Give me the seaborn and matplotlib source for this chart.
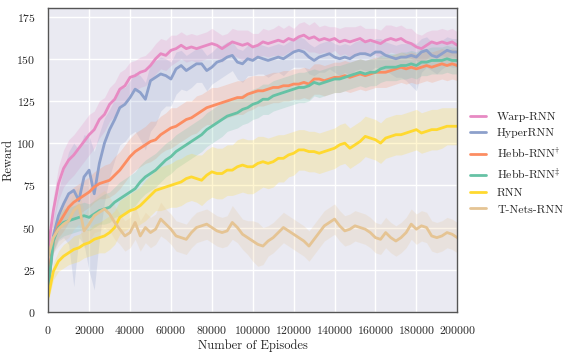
import numpy as np
import pandas as pd
import seaborn as sns
from matplotlib import pyplot as plt

# episodes, every 2500
episodes = list(range(0, 200001, 2500))

warp_rnn = [38, 60, 76, 85, 90, 93, 97, 101, 105, 108, 114, 117, 123, 126, 132, 134, 139, 140, 142, 143,
            146, 150, 153, 152, 155, 156, 158, 156, 157, 156, 157, 158, 159, 158, 156, 158, 160, 159, 158, 159,
            157, 158, 160, 159, 160, 161, 160, 162, 161, 163, 164, 162, 163, 161, 162, 161, 162, 160, 161, 160,
            161, 162, 160, 161, 160, 159, 161, 162, 161, 162, 160, 159, 157, 156, 158, 160, 159, 160, 159, 160,
            158]
hyper_rnn = [12, 45, 57, 64, 70, 72, 66, 80, 84, 70, 88, 100, 108, 114, 121, 123, 127, 132, 130, 126,
             137, 139, 141, 140, 138, 144, 146, 143, 145, 147, 147, 143, 145, 148, 149, 151, 152, 148, 147, 150,
             149, 151, 150, 149, 150, 151, 150, 152, 154, 155, 154, 151, 149, 151, 152, 153, 151, 150, 151, 150,
             152, 153, 153, 152, 154, 154, 152, 151, 150, 151, 151, 152, 151, 154, 155, 152, 151, 153, 155, 154,
             154]
hebb_dagger = [20, 42, 52, 57, 62, 65, 67, 69, 71, 74, 76, 77, 78, 81, 84, 88, 92, 95, 97, 99,
               101, 102, 105, 107, 109, 110, 112, 114, 115, 117, 119, 121, 122, 123, 124, 125, 126, 127, 127, 129,
               130, 131, 131, 132, 133, 133, 134, 134, 135, 135, 136, 135, 138, 138, 137, 138, 139, 139, 140, 139,
               140, 141, 140, 141, 142, 142, 142, 143, 144, 145, 144, 145, 144, 145, 146, 145, 146, 147, 146, 147,
               146]
hebb_ddagger = [14, 42, 50, 53, 54, 55, 56, 57, 56, 58, 60, 61, 62, 65, 67, 69, 71, 73, 77, 80,
                82, 84, 87, 90, 92, 95, 97, 99, 101, 103, 105, 108, 110, 112, 114, 116, 117, 118, 120, 121,
                123, 124, 126, 126, 128, 129, 130, 131, 132, 133, 133, 134, 136, 135, 136, 137, 138, 138, 139, 140,
                141, 142, 141, 142, 142, 144, 145, 145, 145, 146, 146, 147, 146, 148, 148, 149, 149, 149, 150, 149,
                149]
rnn = [9, 24, 30, 33, 35, 37, 38, 40, 41, 43, 44, 45, 47, 50, 56, 58, 60, 61, 63, 66,
       69, 72, 73, 74, 75, 76, 77, 79, 80, 79, 78, 81, 83, 82, 82, 84, 84, 86, 87, 86,
       86, 88, 89, 88, 89, 91, 91, 93, 94, 96, 96, 95, 95, 94, 95, 96, 97, 99, 100, 97,
       99, 101, 104, 103, 102, 100, 103, 104, 105, 105, 106, 107, 108, 106, 107, 108, 108, 109, 110, 110,
       110]
tnets_rnn = [33, 44, 49, 52, 54, 60, 63, 48, 52, 57, 59, 61, 58, 53, 49, 45, 47, 53, 45, 50,
             47, 49, 55, 52, 49, 45, 44, 43, 47, 50, 51, 52, 50, 48, 47, 48, 53, 50, 46, 44,
             42, 40, 39, 42, 44, 47, 50, 48, 46, 44, 42, 39, 43, 47, 51, 53, 55, 51, 48, 49,
             51, 50, 49, 47, 44, 43, 47, 44, 42, 44, 47, 52, 49, 51, 50, 45, 44, 45, 47, 46,
             44]

# half-width of the shaded band (below, above)
warp_band = [4, 8, 10, 11, 12, 12, 12, 12, 12, 11, 11, 10, 10, 10, 10, 10, 9, 9, 9, 9,
             9, 9, 9, 9, 9, 8, 8, 8, 8, 8, 8, 8, 9, 8, 8, 7, 8, 8, 9, 8,
             8, 7, 8, 8, 8, 9, 8, 8, 7, 8, 8, 8, 9, 8, 8, 8, 7, 8, 8, 9,
             8, 8, 8, 7, 8, 8, 9, 8, 8, 8, 8, 9, 8, 8, 8, 7, 8, 8, 8, 8,
             8]
hyper_band_lo = [3, 10, 15, 20, 30, 57, 22, 40, 60, 57, 45, 35, 28, 24, 22, 22, 22, 25, 28, 30,
                 30, 28, 22, 18, 16, 15, 14, 12, 12, 11, 11, 12, 10, 11, 10, 10, 9, 10, 11, 10,
                 9, 10, 9, 10, 9, 9, 10, 9, 9, 10, 9, 10, 9, 9, 10, 9, 9, 10, 9, 10,
                 9, 9, 10, 9, 9, 10, 9, 10, 11, 12, 14, 18, 20, 12, 10, 9, 10, 9, 9, 9,
                 9]
hyper_band_hi = [3, 10, 15, 20, 25, 28, 30, 25, 20, 25, 18, 15, 12, 12, 12, 10, 10, 10, 10, 10,
                 10, 10, 10, 10, 10, 10, 9, 9, 9, 9, 9, 9, 9, 9, 9, 9, 8, 8, 8, 8,
                 8, 8, 8, 8, 8, 8, 8, 8, 8, 8, 8, 8, 8, 8, 8, 8, 8, 8, 8, 8,
                 8, 8, 8, 8, 8, 8, 8, 8, 8, 8, 8, 8, 8, 8, 8, 8, 8, 8, 8, 8,
                 8]
hebb_dagger_band = [3, 6, 8, 9, 9, 9, 9, 9, 9, 9, 9, 10, 10, 11, 11, 11, 11, 11, 11, 11,
                    12, 11, 11, 11, 12, 11, 11, 11, 10, 11, 10, 10, 11, 10, 10, 10, 10, 10, 10, 10,
                    10, 9, 9, 9, 9, 9, 9, 9, 9, 9, 9, 9, 9, 9, 9, 9, 9, 9, 9, 9,
                    9, 9, 9, 9, 9, 9, 9, 9, 9, 9, 9, 9, 9, 9, 9, 9, 9, 9, 9, 9,
                    9]
hebb_ddagger_band = [3, 6, 7, 8, 8, 8, 8, 8, 8, 8, 8, 9, 9, 9, 10, 10, 10, 10, 10, 10,
                     10, 10, 10, 10, 10, 10, 10, 10, 10, 10, 10, 10, 10, 10, 10, 9, 9, 9, 9, 9,
                     9, 9, 9, 9, 9, 9, 9, 9, 9, 9, 9, 9, 8, 8, 8, 8, 8, 8, 8, 8,
                     8, 8, 8, 8, 8, 8, 8, 8, 8, 8, 8, 8, 8, 8, 8, 8, 8, 8, 8, 8,
                     8]
rnn_band = [3, 5, 6, 7, 7, 8, 8, 8, 8, 9, 9, 10, 10, 10, 10, 10, 10, 11, 11, 12,
            12, 12, 13, 13, 13, 14, 14, 14, 14, 14, 15, 15, 15, 15, 15, 15, 15, 16, 16, 16,
            16, 16, 15, 15, 15, 14, 14, 13, 13, 12, 12, 12, 12, 12, 12, 12, 12, 12, 12, 12,
            12, 12, 12, 12, 12, 12, 12, 12, 12, 12, 12, 12, 12, 12, 12, 12, 12, 12, 11, 11,
            11]
tnets_band = [6, 9, 10, 10, 10, 11, 11, 10, 10, 10, 11, 11, 10, 10, 9, 9, 9, 10, 9, 9,
              9, 9, 10, 9, 9, 9, 9, 9, 9, 9, 9, 9, 9, 9, 9, 9, 10, 9, 9, 10,
              12, 13, 11, 9, 9, 9, 9, 9, 9, 9, 9, 9, 9, 9, 9, 9, 9, 9, 9, 9,
              9, 9, 9, 9, 9, 9, 9, 9, 9, 9, 9, 9, 9, 9, 9, 9, 9, 9, 9, 9,
              9]

methods = ["Warp-RNN", "HyperRNN", r"Hebb-RNN$\!^\dagger$", r"Hebb-RNN$\!^\ddagger$", "RNN", "T-Nets-RNN"]
means = [warp_rnn, hyper_rnn, hebb_dagger, hebb_ddagger, rnn, tnets_rnn]
bands_lo = [warp_band, hyper_band_lo, hebb_dagger_band, hebb_ddagger_band, rnn_band, tnets_band]
bands_hi = [warp_band, hyper_band_hi, hebb_dagger_band, hebb_ddagger_band, rnn_band, tnets_band]

set2 = sns.color_palette("Set2")
colors = [set2[3], set2[2], set2[1], set2[0], set2[5], set2[6]]

df = pd.DataFrame({
    "Episodes": np.tile(episodes, len(methods)),
    "Reward": np.concatenate(means),
    "Method": np.repeat(methods, len(episodes)),
})

sns.set_theme(style="darkgrid")
plt.rcParams["font.family"] = ["cmr10", "DejaVu Serif"]
plt.rcParams["mathtext.fontset"] = "cm"
plt.rcParams["axes.formatter.use_mathtext"] = True

fig = plt.figure(figsize=(5.81, 3.54), dpi=100)
ax = fig.add_axes([0.083, 0.119, 0.704, 0.858])

x = np.array(episodes)
for mean, lo, hi, c in zip(means, bands_lo, bands_hi, colors):
    m = np.array(mean, dtype=float)
    ax.fill_between(x, m - np.array(lo), m + np.array(hi), color=c, alpha=0.22, linewidth=0)

sns.lineplot(data=df, x="Episodes", y="Reward", hue="Method", hue_order=methods,
             palette=colors, linewidth=2.0, ax=ax)

ax.set_xlim(0, 200000)
ax.set_ylim(0, 180)
ax.set_xticks(range(0, 200001, 20000))
ax.set_yticks(range(0, 176, 25))
ax.tick_params(labelsize=8.5, pad=3)
ax.set_xlabel("Number of Episodes", fontsize=9, labelpad=2)
ax.set_ylabel("Reward", fontsize=9, labelpad=1)
for s in ax.spines.values():
    s.set_visible(True)
    s.set_color("#555555")
    s.set_linewidth(1.0)

sns.move_legend(ax, "center left", bbox_to_anchor=(1.005, 0.49), frameon=False, title=None,
                fontsize=8.5, handlelength=1.4, handletextpad=0.9, labelspacing=0.55)

fig.savefig("out.png", dpi=100)
